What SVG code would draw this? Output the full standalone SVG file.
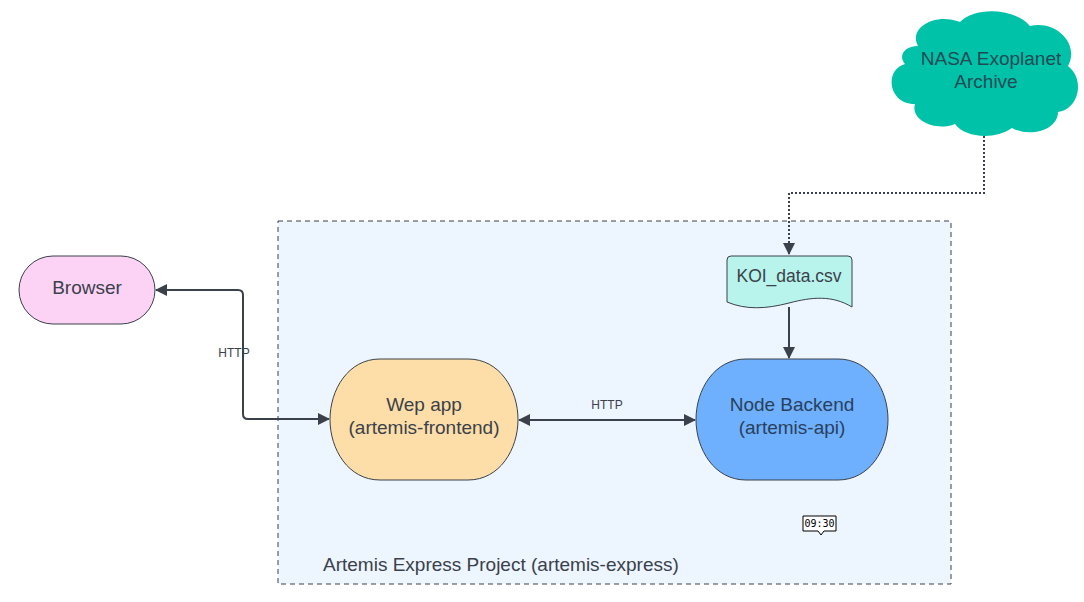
<svg xmlns="http://www.w3.org/2000/svg" width="1084" height="602" viewBox="0 0 1084 602">
<style>
.t{font-family:"Liberation Sans",Arial,sans-serif;fill:#3a414a;text-anchor:middle}
.n{stroke:#3a414a;stroke-width:1}
.c{fill:none;stroke:#3a414a;stroke-width:2}
</style>
<defs>
<marker id="ah" viewBox="0 0 12 12" refX="11" refY="6" markerWidth="12" markerHeight="12" markerUnits="userSpaceOnUse" orient="auto-start-reverse">
<path d="M0,0 L12,6 L0,12 Z" fill="#3a414a"/>
</marker>
</defs>
<rect width="1084" height="602" fill="#ffffff"/>
<g id="container">
<rect x="278" y="221" width="673" height="363" fill="#edf5fe" stroke="#3a414a" stroke-width="1" stroke-dasharray="5,4"/>
<text class="t" x="323" y="571" font-size="19" style="text-anchor:start">Artemis Express Project (artemis-express)</text>
</g>
<g id="connectors">
<path class="c" d="M984,132 V193 H789 V254" stroke-dasharray="2,2" marker-end="url(#ah)"/>
<path class="c" d="M789,307 V358" marker-end="url(#ah)"/>
<path class="c" d="M156,290 H238 Q243,290 243,295 V414 Q243,419 248,419 H329" marker-start="url(#ah)" marker-end="url(#ah)"/>
<text class="t" x="234" y="357" font-size="12">HTTP</text>
<path class="c" d="M519,420 H695" marker-start="url(#ah)" marker-end="url(#ah)"/>
<text class="t" x="607" y="409" font-size="12">HTTP</text>
</g>
<g id="browser">
<rect class="n" x="19" y="256" width="136" height="68" rx="34" fill="#fdd3f5"/>
<text class="t" x="87" y="294" font-size="19">Browser</text>
</g>
<g id="webapp">
<path class="n" d="M380,359 H468 C500,359 518,390 518,419.5 C518,449 500,480 468,480 H380 C348,480 330,449 330,419.5 C330,390 348,359 380,359 Z" fill="#fedea8"/>
<text class="t" x="424" y="411" font-size="19">Wep app</text>
<text class="t" x="424" y="434" font-size="19">(artemis-frontend)</text>
</g>
<g id="backend">
<path class="n" d="M746,359 H838 C870,359 888,390 888,419.5 C888,449 870,480 838,480 H746 C714,480 696,449 696,419.5 C696,390 714,359 746,359 Z" fill="#6eb0fd"/>
<text class="t" x="792" y="411" font-size="19" style="fill:#29405c">Node Backend</text>
<text class="t" x="792" y="434" font-size="19" style="fill:#29405c">(artemis-api)</text>
</g>
<g id="koi">
<path class="n" d="M731,256 H848 Q852,256 852,260 V307 C832,295 812,297 789,303 C766,309 746,310 727,302 V260 Q727,256 731,256 Z" fill="#b8f4ec"/>
<text class="t" x="789" y="282" font-size="17.5">KOI_data.csv</text>
</g>
<g id="nasa">
<path d="M918,46 C908,28 935,12 960,22 C975,6 1015,8 1030,26 C1056,20 1080,44 1068,66 C1086,80 1078,110 1058,112 C1058,130 1030,138 1012,128 C995,140 965,138 955,124 C935,132 910,120 915,104 C888,104 884,70 905,64 C898,56 904,46 918,46 Z" fill="#00c2a8"/>
<text class="t" x="991" y="65" font-size="19" style="fill:#1f4a55">NASA Exoplanet</text>
<text class="t" x="986" y="88" font-size="19" style="fill:#1f4a55">Archive</text>
</g>
<g id="timestamp">
<path d="M803,516 H836 V531 H824 L821,535 L818,531 H803 Z" fill="#ffffff" stroke="#000000" stroke-width="1"/>
<text x="819.5" y="527" font-size="10" font-family="'DejaVu Sans Mono',monospace" text-anchor="middle" fill="#000">09:30</text>
</g>
</svg>
